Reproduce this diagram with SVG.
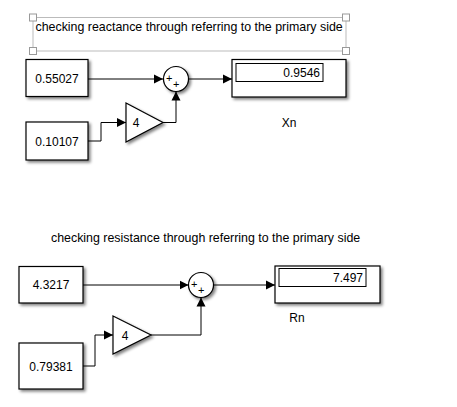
<svg xmlns="http://www.w3.org/2000/svg" width="457" height="407" viewBox="0 0 457 407">
<defs>
<filter id="sh" x="-20%" y="-20%" width="150%" height="150%">
<feGaussianBlur in="SourceAlpha" stdDeviation="1.5"/>
<feOffset dx="2" dy="2" result="b"/>
<feComponentTransfer><feFuncA type="linear" slope="0.5"/></feComponentTransfer>
<feMerge><feMergeNode/><feMergeNode in="SourceGraphic"/></feMerge>
</filter>
<marker id="arr" markerWidth="10" markerHeight="10" refX="9" refY="5" orient="auto" markerUnits="userSpaceOnUse">
<path d="M0,0.5 L9,5 L0,9.5 Z" fill="#000"/>
</marker>
</defs>
<style>
text{font-family:"Liberation Sans",Arial,sans-serif;fill:#000}
.blk{fill:#fff;stroke:#000;stroke-width:1.2;filter:url(#sh)}
.inner{fill:#fff;stroke:#000;stroke-width:1}
.val{font-size:12px;text-anchor:middle}
.disp{font-size:12px;text-anchor:end}
.lbl{font-size:12px;text-anchor:middle}
.note{font-size:12.4px}
.sgn{font-size:11px}
.wire{fill:none;stroke:#000;stroke-width:1}
.handle{fill:#fff;stroke:#999;stroke-width:1}
</style>
<rect width="457" height="407" fill="#fff"/>
<g id="annotation-top">
<rect x="33" y="17.5" width="313" height="33.5" fill="none" stroke="#bbb" stroke-width="1"/>
<rect class="handle" x="29.5" y="14" width="7" height="7"/>
<rect class="handle" x="342.5" y="14" width="7" height="7"/>
<rect class="handle" x="29.5" y="47.5" width="7" height="7"/>
<rect class="handle" x="342.5" y="47.5" width="7" height="7"/>
<text class="note" x="35.5" y="30.5">checking reactance through referring to the primary side</text>
</g>
<g id="annotation-bottom">
<text class="note" x="51" y="241.5">checking resistance through referring to the primary side</text>
</g>
<g id="const1"><rect class="blk" x="26" y="59.5" width="62" height="37"/><text class="val" x="57" y="82.5">0.55027</text></g>
<g id="const2"><rect class="blk" x="26" y="122" width="62" height="38"/><text class="val" x="57" y="145.5">0.10107</text></g>
<g id="gain1"><path class="blk" d="M126,103 L163,122.5 L126,142 Z"/><text class="val" x="136" y="127">4</text></g>
<g id="sum1"><circle class="blk" cx="176" cy="79" r="12.5"/><text class="sgn" x="166" y="81.5">+</text><text class="sgn" x="173" y="87.5">+</text></g>
<g id="display1"><rect class="blk" x="232" y="59.5" width="114" height="37.5"/><rect class="inner" x="236" y="63.5" width="87" height="18"/><text class="disp" x="320" y="76.5">0.9546</text><text class="lbl" x="289" y="127">Xn</text></g>
<g id="const3"><rect class="blk" x="19" y="266.5" width="64" height="36.5"/><text class="val" x="51" y="289">4.3217</text></g>
<g id="const4"><rect class="blk" x="19" y="343" width="64" height="46"/><text class="val" x="51" y="370.5">0.79381</text></g>
<g id="gain2"><path class="blk" d="M113,316 L151,335 L113,354 Z"/><text class="val" x="125" y="339.5">4</text></g>
<g id="sum2"><circle class="blk" cx="201" cy="285" r="12.5"/><text class="sgn" x="191" y="287.5">+</text><text class="sgn" x="198" y="293.5">+</text></g>
<g id="display2"><rect class="blk" x="275" y="266" width="105" height="37"/><rect class="inner" x="279" y="268.5" width="87" height="18"/><text class="disp" x="363" y="282">7.497</text><text class="lbl" x="297" y="322">Rn</text></g>
<g id="connectors">
<path class="wire" d="M88,79 L163,79" marker-end="url(#arr)"/>
<path class="wire" d="M188.5,79 L232,79" marker-end="url(#arr)"/>
<path class="wire" d="M88,141 L101,141 L101,122.5 L126,122.5" marker-end="url(#arr)"/>
<path class="wire" d="M163,122.5 L176,122.5 L176,91.5" marker-end="url(#arr)"/>
<path class="wire" d="M83,285 L188.5,285" marker-end="url(#arr)"/>
<path class="wire" d="M213.5,285 L275,285" marker-end="url(#arr)"/>
<path class="wire" d="M83,366 L95,366 L95,335 L113,335" marker-end="url(#arr)"/>
<path class="wire" d="M151,335 L201,335 L201,297.5" marker-end="url(#arr)"/>
</g>
</svg>
